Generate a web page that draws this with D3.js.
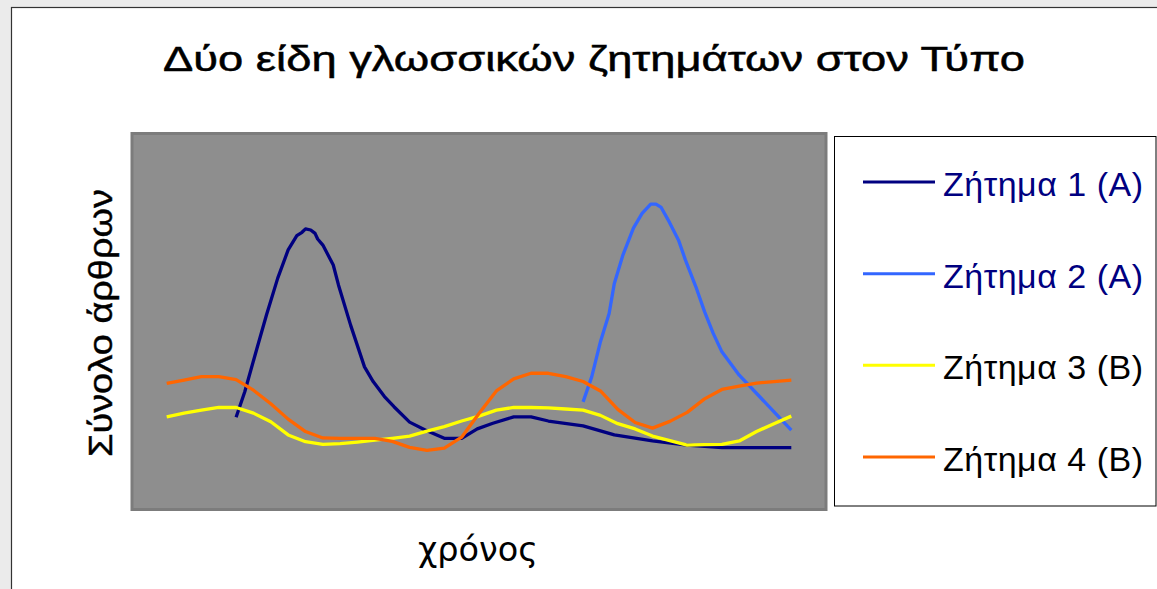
<!DOCTYPE html>
<html>
<head>
<meta charset="utf-8">
<script src="https://cdn.jsdelivr.net/npm/d3@7"></script>
<style>
  html, body { margin: 0; padding: 0; background: #ebebeb; }
  svg { display: block; }
</style>
</head>
<body>
<svg id="chart" width="1157" height="589"></svg>
<script>
// Time periods (unlabelled x axis), indexed 0..36
const periods = d3.range(0, 37);

// Issue 1 (A): sparse series with a sharp early peak, [period, articles]
const issue1 = [
  [4, 24.4], [4.5, 31.2], [5.2, 42.7], [5.75, 51.6], [6.4, 61.4], [7, 68.9],
  [7.5, 72.7], [7.8, 73.6], [8, 74.5], [8.3, 74.2], [8.55, 73.3], [8.7, 71.8],
  [9, 70.2], [9.6, 64.9], [9.9, 59.6], [10.6, 48.9], [11.4, 37.8], [11.9, 33.9],
  [12.55, 29.9], [13.1, 27.2], [14, 23.1], [14.9, 21.0], [16, 18.8], [17, 18.8],
  [17.9, 21.3], [18.8, 22.8], [20, 24.5], [21, 24.5], [22, 23.4], [24, 22.1],
  [25.8, 19.7], [28, 18.1], [30, 17.0], [32, 16.3], [36, 16.3]
];

// Issue 2 (A): appears late with a second sharp peak
const issue2 = [
  [24, 28.5], [24.5, 35.2], [25, 44.5], [25.5, 52.0], [25.8, 60.0], [26.3, 67.6],
  [26.9, 74.7], [27.4, 78.6], [27.9, 81.1], [28.2, 81.1], [28.5, 80.2], [28.9, 76.9],
  [29.5, 71.5], [29.9, 66.2], [30.5, 59.1], [31, 52.5], [31.5, 46.7], [32, 41.8],
  [33, 35.6], [36, 21.0]
];

// Issue 3 (B): one value per period
const issue3 = [
  24.5, 25.5, 26.3, 27.0, 27.0, 25.5, 23.2, 19.7, 17.9, 17.2,
  17.4, 17.8, 18.3, 18.8, 19.4, 20.7, 21.9, 23.4, 24.7, 26.3,
  27.0, 27.0, 26.9, 26.6, 26.3, 24.9, 22.7, 21.3, 19.4, 18.2,
  17.0, 17.1, 17.2, 18.1, 20.6, 22.7, 24.7
];

// Issue 4 (B): one value per period
const issue4 = [
  33.4, 34.3, 35.2, 35.2, 34.4, 31.6, 28.0, 23.9, 20.6, 18.9,
  18.8, 18.8, 18.8, 18.0, 16.4, 15.6, 16.2, 19.1, 25.4, 31.4,
  34.6, 36.1, 36.1, 35.2, 33.9, 31.4, 26.5, 23.0, 21.5, 23.3,
  25.7, 29.3, 31.8, 32.7, 33.5, 33.9, 34.3
];

const seriesNames = ["Ζήτημα 1 (Α)", "Ζήτημα 2 (Α)", "Ζήτημα 3 (Β)", "Ζήτημα 4 (Β)"];
const seriesColors = ["#000080", "#3366ff", "#ffff00", "#ff6600"];
const labelColors = ["#000080", "#000080", "#000000", "#000000"];

const titleText = "Δύο είδη γλωσσικών ζητημάτων στον Τύπο";
const xTitle = "χρόνος";
const yTitle = "Σύνολο άρθρων";

const series = [
  issue1,
  issue2,
  periods.map((p, i) => [p, issue3[i]]),
  periods.map((p, i) => [p, issue4[i]])
];

const svg = d3.select("#chart");

// Chart frame
svg.append("rect")
  .attr("x", 11.5).attr("y", 7.5)
  .attr("width", 1160).attr("height", 600)
  .attr("fill", "#ffffff")
  .attr("stroke", "#333333")
  .attr("stroke-width", 1.2);

// Plot area
const plot = { left: 132, top: 133.5, right: 826, bottom: 509.5 };

const x = d3.scaleLinear().domain([-2, 38]).range([plot.left, plot.right]);
const y = d3.scaleLinear().domain([0, 100]).range([509, 133]);

svg.append("rect")
  .attr("x", plot.left).attr("y", plot.top)
  .attr("width", plot.right - plot.left)
  .attr("height", plot.bottom - plot.top)
  .attr("fill", "#8e8e8e")
  .attr("stroke", "#7c7c7c")
  .attr("stroke-width", 3);

const line = d3.line().x(d => x(d[0])).y(d => y(d[1]));

svg.append("g")
  .selectAll("path")
  .data(series)
  .join("path")
  .attr("d", line)
  .attr("fill", "none")
  .attr("stroke", (d, i) => seriesColors[i])
  .attr("stroke-width", 3.3)
  .attr("stroke-linejoin", "round");

// Title
svg.append("text")
  .attr("x", 163).attr("y", 71)
  .attr("textLength", 862)
  .attr("lengthAdjust", "spacingAndGlyphs")
  .attr("font-family", "Liberation Sans, Arial, sans-serif")
  .attr("font-size", 35)
  .attr("fill", "#000")
  .attr("stroke", "#000")
  .attr("stroke-width", 0.5)
  .text(titleText);

// Axis titles
svg.append("text")
  .attr("x", 418).attr("y", 561)
  .attr("textLength", 120)
  .attr("lengthAdjust", "spacingAndGlyphs")
  .attr("font-family", "DejaVu Sans, sans-serif")
  .attr("font-size", 33)
  .attr("fill", "#000")
  .text(xTitle);

svg.append("text")
  .attr("transform", "translate(112,457) rotate(-90)")
  .attr("textLength", 268)
  .attr("lengthAdjust", "spacingAndGlyphs")
  .attr("font-family", "Liberation Sans, Arial, sans-serif")
  .attr("font-size", 34)
  .attr("fill", "#000")
  .attr("stroke", "#000")
  .attr("stroke-width", 0.4)
  .text(yTitle);

// Legend
const legend = svg.append("g");
legend.append("rect")
  .attr("x", 834.5).attr("y", 136.5)
  .attr("width", 321.5).attr("height", 369.5)
  .attr("fill", "#ffffff")
  .attr("stroke", "#000000")
  .attr("stroke-width", 1);

const rowY = d3.scalePoint().domain(seriesNames).range([182, 457]);

const rows = legend.selectAll("g.row")
  .data(seriesNames)
  .join("g")
  .attr("class", "row")
  .attr("transform", d => `translate(0,${rowY(d)})`);

rows.append("line")
  .attr("x1", 863).attr("x2", 935)
  .attr("y1", 0).attr("y2", 0)
  .attr("stroke", (d, i) => seriesColors[i])
  .attr("stroke-width", 3);

rows.append("text")
  .attr("x", 943).attr("y", 14)
  .attr("textLength", 200)
  .attr("lengthAdjust", "spacing")
  .attr("font-family", "Liberation Sans, Arial, sans-serif")
  .attr("font-size", 34)
  .attr("fill", (d, i) => labelColors[i])
  .text(d => d);
</script>
</body>
</html>
